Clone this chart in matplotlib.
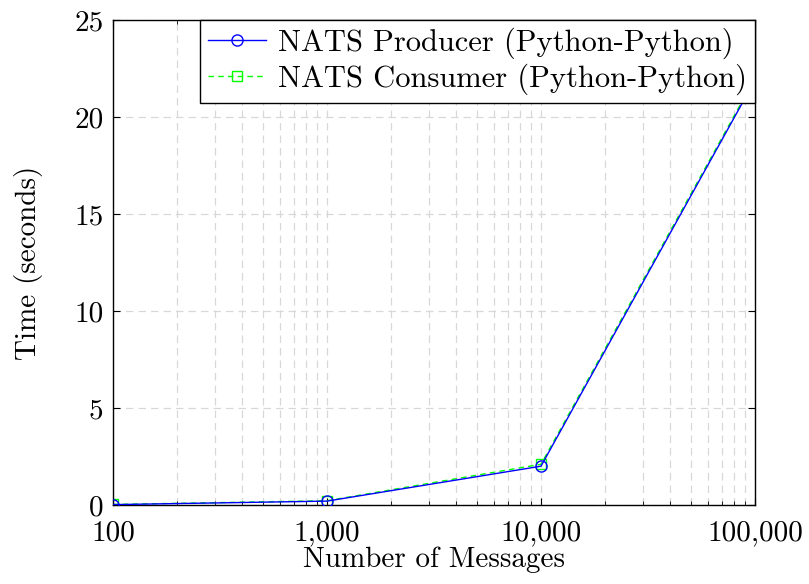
import matplotlib
matplotlib.use("Agg")
import matplotlib.pyplot as plt
from matplotlib.ticker import FixedLocator, LogLocator, NullFormatter

plt.rcParams['font.family'] = 'cmr10'
plt.rcParams['mathtext.fontset'] = 'cm'
plt.rcParams['axes.unicode_minus'] = False

messages = [100, 1000, 10000, 100000]
producer = [0.02, 0.2, 2.0, 21.9]
consumer = [0.03, 0.22, 2.1, 22.0]
xtick_labels = ['100', '1,000', '10,000', '100,000']
yticks = [0, 5, 10, 15, 20, 25]

fig = plt.figure(figsize=(8.09, 5.84), dpi=100)
ax = fig.add_axes([113 / 809, 1 - 505 / 584, (755 - 113) / 809, (505 - 20) / 584])

ax.plot(messages, producer, color='blue', lw=1, marker='o', ms=8, mfc='none',
        mec='blue', label='NATS Producer (Python-Python)', zorder=3)
ax.plot(messages, consumer, color='#00ff00', lw=1, ls=(0, (4, 3)), marker='s', ms=7,
        mfc='none', mec='#00ff00', label='NATS Consumer (Python-Python)', zorder=2)

ax.set_xscale('log')
ax.set_xlim(100, 100000)
ax.set_ylim(0, 25)
ax.xaxis.set_major_locator(FixedLocator(messages))
ax.set_xticklabels(xtick_labels)
ax.xaxis.set_minor_locator(LogLocator(base=10, subs=range(2, 10)))
ax.xaxis.set_minor_formatter(NullFormatter())
ax.set_yticks(yticks)

ax.grid(True, which='both', color='#d8d8d8', ls=(0, (6, 4)), lw=0.9)
ax.tick_params(which='both', direction='in', labelsize=21, top=True, right=True)
ax.tick_params(axis='x', which='major', length=5, pad=11)
ax.tick_params(axis='y', which='major', length=5, pad=7)
ax.tick_params(which='minor', length=3)
for s in ax.spines.values():
    s.set_linewidth(1)

ax.set_xlabel('Number of Messages', fontsize=21, labelpad=0)
ax.set_ylabel('Time (seconds)', fontsize=21, labelpad=22)

leg = ax.legend(loc='upper right', fontsize=22, fancybox=False, framealpha=1,
                edgecolor='black', borderaxespad=0.0, handlelength=1.9,
                borderpad=0.25, labelspacing=0.15, handletextpad=0.4)
leg.get_frame().set_linewidth(1)

fig.savefig('out.png', dpi=100)
